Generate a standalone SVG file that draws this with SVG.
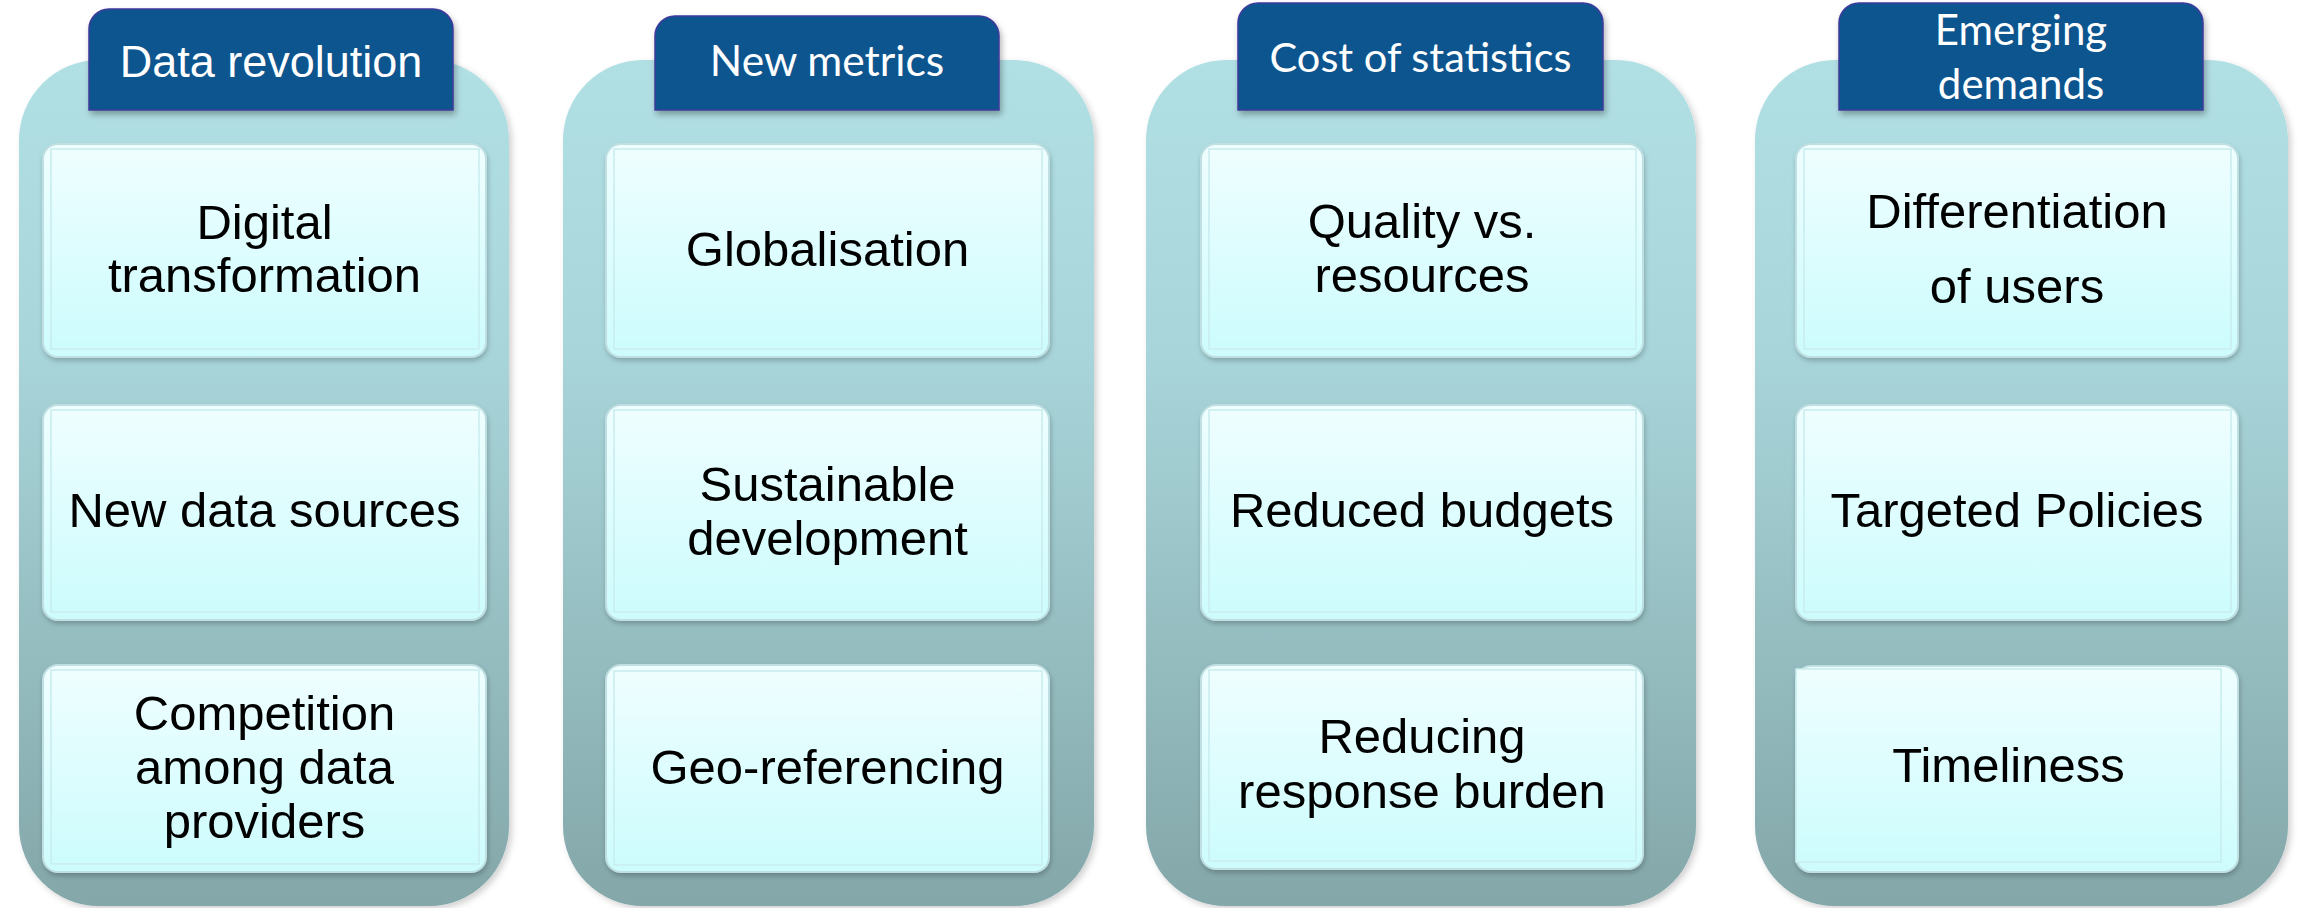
<svg xmlns="http://www.w3.org/2000/svg" width="2303" height="908" viewBox="0 0 2303 908">
<style>
.col{fill:url(#colGrad);filter:url(#colShadow)}
.hdr{fill:#10548f;stroke:#3d3a9c;stroke-width:1.5;filter:url(#hdrShadow)}
.ht{font-family:Lato,"Open Sans","Liberation Sans",sans-serif;fill:#ffffff;text-anchor:middle}
.hta{font-family:"Liberation Sans",Arial,sans-serif;fill:#ffffff;text-anchor:middle}
.box{fill:url(#boxGrad);stroke:#bfdfe2;stroke-width:2;filter:url(#boxShadow)}
.boxIn{fill:url(#boxGrad);stroke:#c8ecee;stroke-width:1.5}
.t{font-family:"Liberation Sans",Arial,sans-serif;font-size:49px;fill:#000000;text-anchor:middle}
</style>
<defs>
<linearGradient id="colGrad" x1="0" y1="0" x2="0" y2="1">
<stop offset="0" stop-color="#b1e0e4"/>
<stop offset="0.35" stop-color="#a8d5da"/>
<stop offset="1" stop-color="#84a7a9"/>
</linearGradient>
<linearGradient id="boxGrad" x1="0" y1="0" x2="0" y2="1">
<stop offset="0" stop-color="#effeff"/>
<stop offset="1" stop-color="#cdfcfd"/>
</linearGradient>
<filter id="colShadow" x="-5%" y="-5%" width="115%" height="115%">
<feDropShadow dx="3" dy="3" stdDeviation="3" flood-color="#000000" flood-opacity="0.18"/>
</filter>
<filter id="hdrShadow" x="-5%" y="-10%" width="115%" height="130%">
<feDropShadow dx="2" dy="4" stdDeviation="3" flood-color="#000000" flood-opacity="0.3"/>
</filter>
<filter id="boxShadow" x="-5%" y="-5%" width="115%" height="120%">
<feDropShadow dx="1" dy="3" stdDeviation="2.5" flood-color="#000000" flood-opacity="0.22"/>
</filter>
</defs>

<g id="connectors"/>

<g id="col-data-revolution">
<rect class="col" x="19" y="60" width="490" height="846" rx="80" ry="80"/>
<g id="hdr-data-revolution">
<path class="hdr" d="M89,110 V29 A20,20 0 0 1 109,9 H433 A20,20 0 0 1 453,29 V110 Z"/>
<text class="hta" x="271" y="77" font-size="45">Data revolution</text>
</g>
<g id="box-digital-transformation">
<rect class="box" x="43" y="144" width="443" height="213" rx="15"/>
<rect class="boxIn" x="51" y="149" width="428" height="200"/>
<text class="t" x="264.5" y="239">Digital</text>
<text class="t" x="264.5" y="292">transformation</text>
</g>
<g id="box-new-data-sources">
<rect class="box" x="43" y="405" width="443" height="215" rx="15"/>
<rect class="boxIn" x="51" y="410" width="428" height="202"/>
<text class="t" x="264.5" y="527">New data sources</text>
</g>
<g id="box-competition">
<rect class="box" x="43" y="665" width="443" height="207" rx="15"/>
<rect class="boxIn" x="51" y="670" width="428" height="194"/>
<text class="t" x="264.5" y="730">Competition</text>
<text class="t" x="264.5" y="784">among data</text>
<text class="t" x="264.5" y="838">providers</text>
</g>
</g>

<g id="col-new-metrics">
<rect class="col" x="563" y="60" width="531" height="846" rx="80" ry="80"/>
<g id="hdr-new-metrics">
<path class="hdr" d="M655,110 V36 A20,20 0 0 1 675,16 H979 A20,20 0 0 1 999,36 V110 Z"/>
<text class="ht" x="827" y="76" font-size="42.5">New metrics</text>
</g>
<g id="box-globalisation">
<rect class="box" x="606" y="144" width="443" height="213" rx="15"/>
<rect class="boxIn" x="614" y="149" width="428" height="200"/>
<text class="t" x="827.5" y="266">Globalisation</text>
</g>
<g id="box-sustainable-development">
<rect class="box" x="606" y="405" width="443" height="215" rx="15"/>
<rect class="boxIn" x="614" y="410" width="428" height="202"/>
<text class="t" x="827.5" y="501">Sustainable</text>
<text class="t" x="827.5" y="555">development</text>
</g>
<g id="box-geo-referencing">
<rect class="box" x="606" y="665" width="443" height="207" rx="15"/>
<rect class="boxIn" x="614" y="671" width="428" height="194"/>
<text class="t" x="827.5" y="784">Geo-referencing</text>
</g>
</g>

<g id="col-cost-of-statistics">
<rect class="col" x="1146" y="60" width="550" height="846" rx="80" ry="80"/>
<g id="hdr-cost-of-statistics">
<path class="hdr" d="M1238,110 V23 A20,20 0 0 1 1258,3 H1583 A20,20 0 0 1 1603,23 V110 Z"/>
<text class="ht" x="1420.5" y="72" font-size="41.5">Cost of statistics</text>
</g>
<g id="box-quality-vs-resources">
<rect class="box" x="1201" y="144" width="442" height="213" rx="15"/>
<rect class="boxIn" x="1209" y="149" width="427" height="200"/>
<text class="t" x="1422" y="238">Quality vs.</text>
<text class="t" x="1422" y="292">resources</text>
</g>
<g id="box-reduced-budgets">
<rect class="box" x="1201" y="405" width="442" height="215" rx="15"/>
<rect class="boxIn" x="1209" y="410" width="427" height="202"/>
<text class="t" x="1422" y="527">Reduced budgets</text>
</g>
<g id="box-reducing-response-burden">
<rect class="box" x="1201" y="665" width="442" height="204" rx="15"/>
<rect class="boxIn" x="1209" y="670" width="427" height="191"/>
<text class="t" x="1422" y="753">Reducing</text>
<text class="t" x="1422" y="808">response burden</text>
</g>
</g>

<g id="col-emerging-demands">
<rect class="col" x="1755" y="60" width="533" height="846" rx="80" ry="80"/>
<g id="hdr-emerging-demands">
<path class="hdr" d="M1839,110 V23 A20,20 0 0 1 1859,3 H2183 A20,20 0 0 1 2203,23 V110 Z"/>
<text class="ht" x="2021" y="45" font-size="42">Emerging</text>
<text class="ht" x="2021" y="99" font-size="42">demands</text>
</g>
<g id="box-differentiation-of-users">
<rect class="box" x="1796" y="144" width="442" height="213" rx="15"/>
<rect class="boxIn" x="1804" y="149" width="427" height="200"/>
<text class="t" x="2017" y="228">Differentiation</text>
<text class="t" x="2017" y="303">of users</text>
</g>
<g id="box-targeted-policies">
<rect class="box" x="1796" y="405" width="442" height="215" rx="15"/>
<rect class="boxIn" x="1804" y="410" width="427" height="202"/>
<text class="t" x="2017" y="527">Targeted Policies</text>
</g>
<g id="box-timeliness">
<rect class="box" x="1796" y="666" width="442" height="206" rx="15"/>
<rect class="boxIn" x="1796" y="669" width="425" height="193" stroke="none"/>
<text class="t" x="2008.5" y="782">Timeliness</text>
</g>
</g>
</svg>
